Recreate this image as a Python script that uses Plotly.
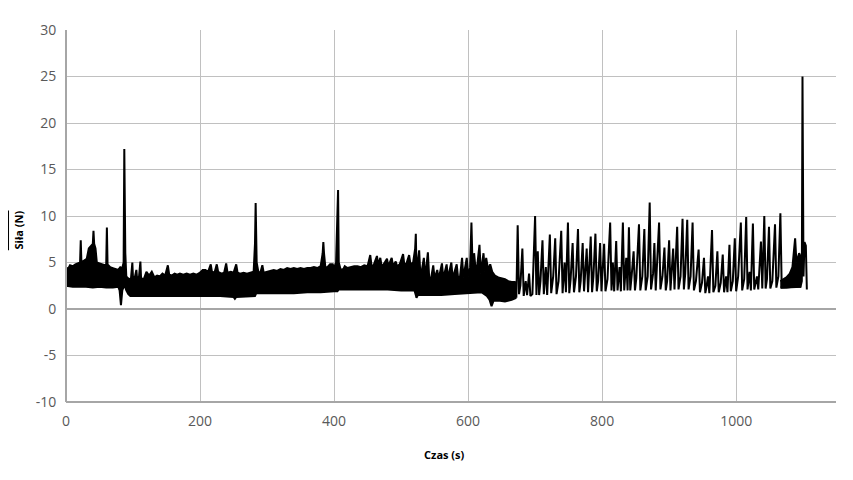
import plotly.graph_objects as go

# ---- data (Czas [s], Siła [N]) ----
# dense section 0-672 s: lower and upper envelope of the fast oscillation (spikes included in upper)
band_lo_x = [0, 10, 20, 30, 40, 50, 60, 70, 78, 80, 82, 84, 86, 88, 90, 93, 96, 110, 130, 150, 170, 190,
             210, 230, 250, 252, 254, 270, 282, 284, 300, 320, 340, 360, 380, 400, 405, 407, 420, 440,
             460, 480, 500, 520, 522, 523, 525, 540, 560, 580, 600, 620, 628, 632, 635, 638, 645, 655,
             665, 672]
band_lo_y = [2.5, 2.4, 2.4, 2.4, 2.3, 2.4, 2.3, 2.3, 2.4, 2.0, 0.4, 2.0, 2.4, 2.4, 2.0, 1.6, 1.4, 1.4, 1.4,
             1.4, 1.4, 1.4, 1.4, 1.4, 1.3, 1.1, 1.3, 1.4, 1.4, 1.7, 1.7, 1.7, 1.7, 1.8, 1.8, 1.9, 1.9,
             2.1, 2.1, 2.1, 2.1, 2.1, 2.0, 2.0, 1.5, 1.2, 1.5, 1.5, 1.5, 1.6, 1.7, 1.8, 1.4, 1.0, 0.3,
             0.9, 0.9, 0.8, 1.0, 1.2]

band_hi_x = [0, 3, 6, 10, 14, 18, 21, 22, 23, 27, 31, 34, 37, 40, 41, 42, 44, 46, 50, 54, 58, 60, 61, 62,
             66, 70, 74, 78, 81, 84, 86, 87, 88.5, 90, 94, 97, 99, 100, 103, 105, 106, 109, 111, 112,
             116, 120, 124, 128, 132, 136, 140, 144, 148, 152, 154, 158, 162, 166, 170, 175, 180, 185,
             190, 195, 200, 204, 208, 212, 216, 218, 222, 225, 227, 232, 236, 239, 241, 246, 250, 254,
             256, 260, 265, 270, 275, 280, 282, 283, 284.5, 287, 290, 293, 295, 300, 305, 310, 315,
             320, 325, 330, 335, 340, 345, 350, 355, 360, 365, 370, 375, 380, 383, 384, 385, 387, 390,
             394, 398, 400, 403, 405, 406, 407, 410, 414, 416, 420, 425, 430, 435, 440, 445, 450, 454,
             456, 459, 464, 466, 469, 471, 474, 479, 481, 486, 488, 492, 494, 498, 503, 505, 508, 512,
             514, 518, 521, 522, 523, 527, 529, 534, 536, 540, 542, 545, 548, 550, 554, 556, 561, 563,
             568, 570, 575, 577, 583, 585, 588, 591, 593, 598, 600, 603, 605, 607, 609, 612, 617, 619,
             623, 625, 627, 630, 633, 636, 640, 645, 650, 655, 660, 665, 670, 672]
band_hi_y = [4.5, 4.3, 4.7, 4.6, 4.8, 4.9, 5.0, 7.4, 5.0, 5.2, 5.4, 6.5, 6.8, 7.0, 8.4, 7.0, 6.5, 5.0, 4.9,
             4.8, 4.7, 4.8, 8.75, 4.8, 4.5, 4.4, 4.3, 4.2, 4.5, 4.4, 5.0, 17.2, 6.0, 3.5, 3.2, 3.3, 5.0,
             3.3, 3.5, 4.2, 3.3, 3.5, 5.1, 3.3, 3.2, 4.0, 3.6, 4.0, 3.4, 3.6, 3.5, 3.8, 3.6, 4.7, 3.7,
             3.6, 3.8, 3.7, 3.8, 3.7, 3.8, 3.7, 3.8, 3.7, 3.9, 4.2, 4.2, 4.0, 4.8, 3.9, 4.0, 4.8, 4.0,
             3.8, 3.9, 4.9, 3.9, 4.0, 3.9, 4.8, 3.9, 3.8, 3.9, 3.8, 3.9, 4.0, 7.0, 11.4, 5.0, 4.0, 3.9,
             4.7, 3.9, 4.0, 4.1, 4.2, 4.1, 4.3, 4.2, 4.4, 4.3, 4.4, 4.3, 4.4, 4.3, 4.4, 4.4, 4.5, 4.4,
             4.6, 6.0, 7.2, 6.0, 4.5, 4.5, 4.8, 4.8, 4.4, 5.0, 9.0, 12.8, 5.0, 4.2, 4.3, 4.6, 4.4, 4.5,
             4.6, 4.6, 4.5, 4.7, 4.6, 5.8, 4.6, 4.7, 5.7, 4.7, 5.5, 4.6, 4.8, 5.4, 4.6, 5.5, 4.6, 5.1,
             4.6, 4.8, 5.9, 4.7, 4.9, 5.8, 4.8, 5.0, 6.5, 8.1, 4.0, 6.3, 3.3, 5.5, 3.3, 6.1, 3.3, 3.4,
             4.7, 3.3, 4.2, 3.2, 4.9, 3.3, 4.8, 3.3, 5.0, 3.3, 4.8, 3.4, 3.5, 5.5, 3.4, 5.5, 3.5, 4.5,
             9.3, 3.5, 6.0, 3.6, 6.9, 3.8, 6.0, 4.0, 5.5, 4.2, 4.8, 4.0, 3.6, 3.4, 3.3, 3.2, 3.0, 2.9,
             2.9, 2.8]

# separate peaks 672-1105 s
peak_x = [672, 674, 676, 678, 681, 683, 686, 688, 691, 693, 696, 700, 702, 704, 706, 708, 711, 713, 716,
          718, 722, 724, 727, 730, 732, 735, 739, 741, 744, 746, 749, 751, 753, 756, 758, 761, 764, 766,
          768, 771, 773, 777, 779, 783, 785, 787, 790, 792, 794, 797, 799, 803, 805, 808, 812, 814, 816,
          818, 821, 823, 826, 828, 831, 833, 836, 838, 840, 842, 844, 847, 849, 851, 855, 857, 860, 863,
          865, 868, 871, 873, 876, 878, 880, 885, 887, 890, 893, 895, 897, 900, 902, 906, 908, 912, 914,
          917, 920, 922, 924, 927, 929, 932, 935, 937, 940, 944, 946, 949, 952, 954, 956, 958, 960, 964,
          966, 969, 972, 974, 977, 980, 982, 985, 987, 990, 992, 995, 998, 1000, 1003, 1007, 1009, 1012,
          1015, 1017, 1020, 1022, 1025, 1027, 1031, 1033, 1037, 1039, 1042, 1044, 1046, 1049, 1051,
          1054, 1058, 1060, 1063, 1066, 1068, 1096, 1098, 1099, 1100.5, 1102, 1104, 1105.5]
peak_y = [1.2, 9.0, 1.6, 2.5, 6.5, 1.4, 3.0, 1.5, 3.8, 1.4, 1.6, 10.0, 1.5, 6.2, 1.5, 3.0, 7.4, 1.6, 4.5,
          1.5, 8.0, 1.7, 3.5, 7.6, 1.6, 3.0, 8.4, 1.7, 5.0, 1.8, 9.3, 1.7, 3.2, 7.1, 1.8, 3.5, 8.6, 1.8,
          3.0, 7.1, 1.9, 6.5, 1.8, 7.8, 1.8, 3.5, 8.1, 1.9, 3.0, 7.1, 1.9, 7.0, 1.9, 3.2, 9.3, 2.0, 5.0,
          1.9, 7.3, 2.0, 4.5, 1.9, 9.3, 2.0, 5.5, 2.0, 8.8, 2.0, 3.5, 6.2, 2.0, 3.3, 9.1, 2.0, 3.5, 8.6,
          2.0, 3.5, 11.45, 2.1, 3.8, 7.1, 2.0, 9.3, 2.1, 3.5, 6.6, 2.0, 3.0, 7.4, 2.0, 6.5, 2.1, 8.85,
          2.1, 3.5, 9.7, 2.1, 3.8, 9.6, 2.1, 3.5, 9.3, 2.0, 3.0, 6.4, 1.8, 2.8, 5.5, 1.7, 2.5, 3.5, 1.7,
          8.5, 1.8, 2.5, 6.2, 1.8, 2.8, 5.85, 1.8, 3.5, 1.8, 6.9, 1.9, 3.0, 7.6, 1.9, 3.5, 9.3, 2.0,
          3.2, 9.9, 2.1, 4.0, 2.0, 9.2, 2.1, 3.5, 2.1, 7.25, 2.2, 10.0, 2.2, 3.2, 8.85, 2.2, 3.0, 9.1,
          2.3, 3.5, 10.3, 2.3, 2.4, 3.0, 25.0, 3.5, 7.2, 6.8, 2.1]

# dense rising section 1066-1097 s
band2_lo_x = [1066, 1075, 1085, 1097]
band2_lo_y = [2.3, 2.3, 2.4, 2.4]
band2_hi_x = [1066, 1070, 1075, 1080, 1084, 1088, 1090, 1094, 1097]
band2_hi_y = [3.0, 3.2, 3.4, 3.8, 4.5, 7.6, 5.0, 6.0, 5.5]

x_ticks = [0, 200, 400, 600, 800, 1000]
y_ticks = [-10, -5, 0, 5, 10, 15, 20, 25, 30]

LINE = dict(color="black", width=2)
fig = go.Figure()
fig.add_trace(go.Scatter(x=band_lo_x, y=band_lo_y, mode="lines", line=LINE, hoverinfo="skip"))
fig.add_trace(go.Scatter(x=band_hi_x, y=band_hi_y, mode="lines", line=LINE, fill="tonexty",
                         fillcolor="black", hoverinfo="skip"))
fig.add_trace(go.Scatter(x=band2_lo_x, y=band2_lo_y, mode="lines", line=LINE, hoverinfo="skip"))
fig.add_trace(go.Scatter(x=band2_hi_x, y=band2_hi_y, mode="lines", line=LINE, fill="tonexty",
                         fillcolor="black", hoverinfo="skip"))
fig.add_trace(go.Scatter(x=peak_x, y=peak_y, mode="lines", line=LINE, hoverinfo="skip"))

tickfont = dict(family="Open Sans, Noto Sans, sans-serif", size=14, color="#595959")
fig.update_layout(
    width=853, height=480,
    margin=dict(l=58, r=25, t=19, b=86),
    paper_bgcolor="white", plot_bgcolor="white",
    showlegend=False,
    xaxis=dict(range=[0, 1149], tickvals=x_ticks, ticktext=[str(v) for v in x_ticks],
               showgrid=True, gridcolor="#c0c0c0", gridwidth=1, zeroline=False,
               showline=False, ticks="outside", ticklen=6, tickcolor="rgba(0,0,0,0)",
               tickfont=tickfont),
    yaxis=dict(range=[-10, 30], tickvals=y_ticks, ticktext=[str(v) for v in y_ticks],
               showgrid=True, gridcolor="#c0c0c0", gridwidth=1,
               zeroline=True, zerolinecolor="#a6a6a6", zerolinewidth=2,
               showline=False, ticks="outside", ticklen=6, tickcolor="rgba(0,0,0,0)",
               tickfont=tickfont),
    shapes=[
        dict(type="line", xref="paper", yref="paper", x0=0, x1=0, y0=0, y1=1,
             line=dict(color="#a6a6a6", width=2)),
        dict(type="line", xref="paper", yref="paper", x0=0, x1=1, y0=0, y1=0,
             line=dict(color="#a6a6a6", width=2)),
        dict(type="line", xref="paper", yref="paper", x0=-0.0753, x1=-0.0753, y0=0.408, y1=0.515,
             line=dict(color="black", width=2)),
    ],
    annotations=[
        dict(text="<b>Czas (s)</b>", xref="paper", yref="paper", x=0.491, y=-0.141,
             xanchor="center", yanchor="middle", showarrow=False,
             font=dict(family="Open Sans, sans-serif", size=11, color="black")),
        dict(text="<b>Siła (N)</b>", xref="paper", yref="paper", x=-0.0623, y=0.461,
             xanchor="center", yanchor="middle", showarrow=False, textangle=-90,
             font=dict(family="Open Sans, sans-serif", size=11, color="black")),
    ],
)

fig.write_html("out.html")
